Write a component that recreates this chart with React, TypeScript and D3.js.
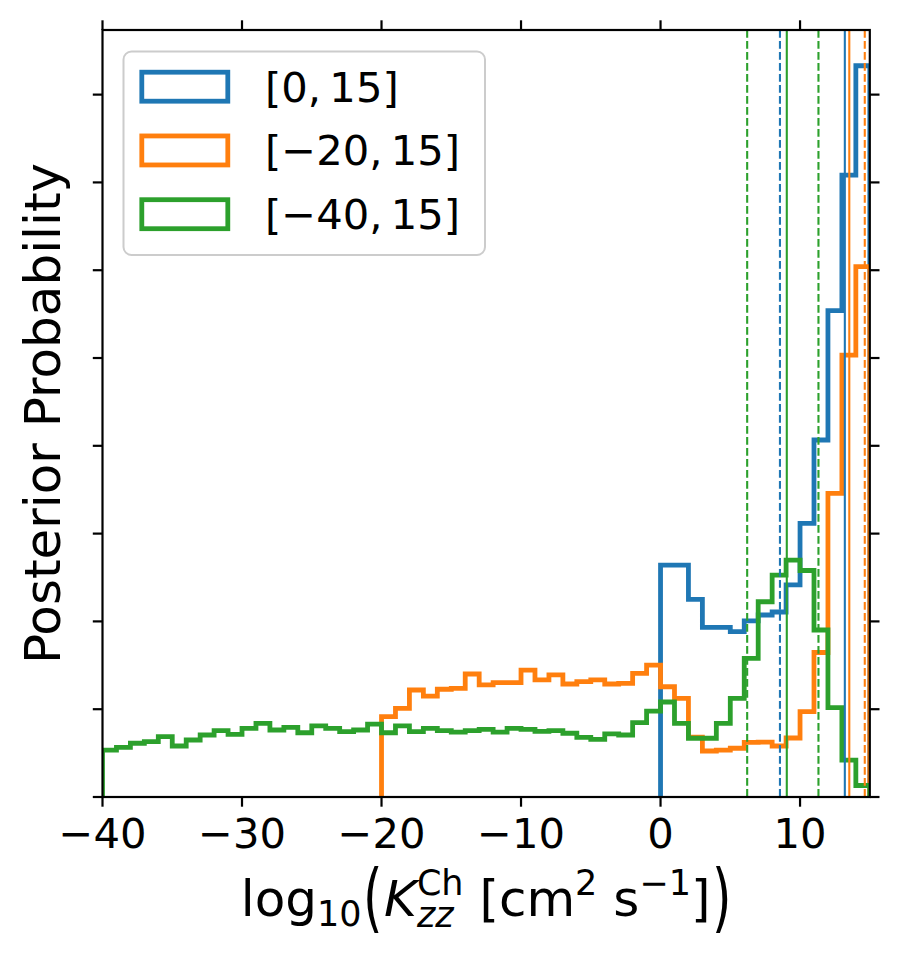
import React, { useLayoutEffect, useRef, useState } from 'react';
import * as d3 from 'd3';

// ---------------- data ----------------
const X_DOMAIN: [number, number] = [-40, 15];
const Y_MAX = 8.736;
const X_TICKS = [-40, -30, -20, -10, 0, 10];
const Y_TICKS = [0, 1, 2, 3, 4, 5, 6, 7, 8];
const BIN_WIDTH = 1;

const SERIES_NAMES = ['[0,\u200915]', '[\u221220,\u200915]', '[\u221240,\u200915]'];
const SERIES_COLORS = ['#1f77b4', '#ff7f0e', '#2ca02c'];
const SERIES_STARTS = [0, -20, -40];

const blueValues = [2.642, 2.642, 2.252, 1.933, 1.933, 1.883, 2.005, 2.073, 2.107, 2.415, 3.117, 4.066, 5.539, 7.084, 8.329];
const orangeValues = [
  0.915, 1.010, 1.219, 1.150, 1.227, 1.238, 1.401, 1.276, 1.302, 1.302,
  1.446, 1.333, 1.390, 1.287, 1.313, 1.333, 1.287, 1.295, 1.409, 1.503,
  1.256, 1.124, 0.683, 0.524, 0.535, 0.555, 0.623, 0.626, 0.581, 0.672,
  0.972, 1.646, 3.459, 5.034, 6.040,
];
const greenValues = [
  0.535, 0.566, 0.612, 0.630, 0.687, 0.581, 0.649, 0.706, 0.755, 0.714,
  0.782, 0.839, 0.763, 0.794, 0.732, 0.809, 0.782, 0.744, 0.763, 0.831,
  0.732, 0.809, 0.744, 0.782, 0.755, 0.740, 0.755, 0.771, 0.740, 0.782,
  0.771, 0.748, 0.755, 0.726, 0.680, 0.657, 0.718, 0.706, 0.846, 0.979,
  1.082, 0.839, 0.669, 0.669, 0.839, 1.124, 1.580, 2.224, 2.528, 2.699,
  2.580, 1.902, 1.019, 0.421, 0.131,
];

// medians (solid) and credible-interval bounds (dashed)
const blueMedian = 13.21;
const blueInterval = [8.56];
const orangeMedian = 13.53;
const orangeInterval = [14.64];
const greenMedian = 9.05;
const greenInterval = [6.21, 11.32];

// ---------------- layout ----------------
const W = 901;
const H = 956;
const M = { left: 102.5, right: 869.8, top: 30, bottom: 797 };
const FONT = "'DejaVu Sans', sans-serif";
const XLABEL_Y = 916;
const PAREN_SCALE = 1.5;

export default function App() {
  const x = d3.scaleLinear().domain(X_DOMAIN).range([M.left, M.right]);
  const y = d3.scaleLinear().domain([0, Y_MAX]).range([M.bottom, M.top]);

  const refA = useRef<SVGTextElement>(null);
  const refP = useRef<SVGTextElement>(null);
  const refB = useRef<SVGTextElement>(null);
  const [widths, setWidths] = useState({ a: 125, p: 19.5, b: 300 });

  useLayoutEffect(() => {
    const w = (el: SVGTextElement | null, d: number) => {
      if (!el) return d;
      try {
        return el.getBBox().width;
      } catch (e) {
        return d;
      }
    };
    setWidths({ a: w(refA.current, 125), p: w(refP.current, 19.5), b: w(refB.current, 300) });
  }, []);

  const seriesValues = [blueValues, orangeValues, greenValues];
  const stepLine = d3.line<[number, number]>().x((d) => x(d[0])).y((d) => y(d[1]));

  const histPath = (start: number, vals: number[]) => {
    const pts: [number, number][] = [[start, 0]];
    vals.forEach((v, i) => {
      const e0 = start + i * BIN_WIDTH;
      pts.push([e0, v]);
      pts.push([e0 + BIN_WIDTH, v]);
    });
    pts.push([start + vals.length * BIN_WIDTH, 0]);
    return stepLine(pts) || '';
  };

  const vlines: { v: number; color: string; dashed: boolean }[] = [
    { v: blueMedian, color: SERIES_COLORS[0], dashed: false },
    ...blueInterval.map((v) => ({ v, color: SERIES_COLORS[0], dashed: true })),
    { v: orangeMedian, color: SERIES_COLORS[1], dashed: false },
    ...orangeInterval.map((v) => ({ v, color: SERIES_COLORS[1], dashed: true })),
    { v: greenMedian, color: SERIES_COLORS[2], dashed: false },
    ...greenInterval.map((v) => ({ v, color: SERIES_COLORS[2], dashed: true })),
  ];

  const tickLen = 9.7;
  const axisW = 2.2;
  const histW = 4.8;
  const parenCy = XLABEL_Y - 0.28 * 50;

  const gap = 1.5;
  const cx = (M.left + M.right) / 2;
  const total = widths.a + widths.p * 2 + widths.b + gap * 3;
  const xA = cx - total / 2;
  const xP1 = xA + widths.a + gap;
  const xB = xP1 + widths.p + gap;
  const xP2 = xB + widths.b + gap;
  const parenT = `translate(0, ${parenCy}) scale(1, ${PAREN_SCALE}) translate(0, ${-parenCy})`;

  return (
    <svg
      width={W}
      height={H}
      viewBox={`0 0 ${W} ${H}`}
      style={{ position: 'absolute', left: 0, top: 0, background: '#fff' }}
      fontFamily={FONT}
    >
      <defs>
        <clipPath id="plotClip">
          <rect x={M.left} y={M.top} width={M.right - M.left} height={M.bottom - M.top} />
        </clipPath>
      </defs>
      <rect x={0} y={0} width={W} height={H} fill="#fff" />

      <g clipPath="url(#plotClip)">
        {seriesValues.map((vals, i) => (
          <path
            key={i}
            d={histPath(SERIES_STARTS[i], vals)}
            fill="none"
            stroke={SERIES_COLORS[i]}
            strokeWidth={histW}
            strokeLinejoin="miter"
          />
        ))}
        {vlines.map((l, i) => (
          <line
            key={i}
            x1={x(l.v)}
            x2={x(l.v)}
            y1={M.top}
            y2={M.bottom}
            stroke={l.color}
            strokeWidth={2.1}
            strokeDasharray={l.dashed ? '7.7,3.3' : undefined}
          />
        ))}
      </g>

      {/* spines */}
      <rect
        x={M.left}
        y={M.top}
        width={M.right - M.left}
        height={M.bottom - M.top}
        fill="none"
        stroke="#000"
        strokeWidth={axisW}
      />

      {/* x ticks bottom & top */}
      {X_TICKS.map((t) => (
        <g key={t}>
          <line x1={x(t)} x2={x(t)} y1={M.bottom} y2={M.bottom + tickLen} stroke="#000" strokeWidth={axisW} />
          <line x1={x(t)} x2={x(t)} y1={M.top} y2={M.top - tickLen} stroke="#000" strokeWidth={axisW} />
          <text x={x(t)} y={848} fontSize={41.7} textAnchor="middle" fill="#000">
            {t < 0 ? `\u2212${Math.abs(t)}` : `${t}`}
          </text>
        </g>
      ))}

      {/* y ticks left & right (no labels) */}
      {Y_TICKS.map((t) => (
        <g key={t}>
          <line x1={M.left} x2={M.left - tickLen} y1={y(t)} y2={y(t)} stroke="#000" strokeWidth={axisW} />
          <line x1={M.right} x2={M.right + tickLen} y1={y(t)} y2={y(t)} stroke="#000" strokeWidth={axisW} />
        </g>
      ))}

      {/* y label */}
      <text
        transform={`translate(60, ${(M.top + M.bottom) / 2}) rotate(-90)`}
        fontSize={50}
        textAnchor="middle"
        fill="#000"
      >
        Posterior Probability
      </text>

      {/* x label, split into pieces so the delimiters can be stretched */}
      <text ref={refA} x={xA} y={XLABEL_Y} fontSize={50} fill="#000">
        <tspan>log</tspan>
        <tspan fontSize={35} dy={10}>10</tspan>
      </text>
      <text ref={refP} x={xP1} y={XLABEL_Y} fontSize={50} fill="#000" transform={parenT}>
        (
      </text>
      <text ref={refB} x={xB} y={XLABEL_Y} fontSize={50} fill="#000">
        <tspan fontStyle="italic">K</tspan>
        <tspan fontSize={35} dy={-21}>Ch</tspan>
        <tspan fontSize={35} fontStyle="italic" dx={-46.6} dy={32}>zz</tspan>
        <tspan fontSize={50} dx={9.8} dy={-11}>{'\u00a0[cm'}</tspan>
        <tspan fontSize={35} dy={-21}>2</tspan>
        <tspan fontSize={50} dy={21}>{'\u00a0s'}</tspan>
        <tspan fontSize={35} dy={-21}>{'\u22121'}</tspan>
        <tspan fontSize={50} dy={21}>]</tspan>
      </text>
      <text x={xP2} y={XLABEL_Y} fontSize={50} fill="#000" transform={parenT}>
        )
      </text>

      {/* legend */}
      <rect x={123.5} y={51.5} width={361.5} height={203.5} rx={8} ry={8} fill="#fff" fillOpacity={0.8} stroke="#cccccc" strokeWidth={2} />
      {SERIES_NAMES.map((name, i) => {
        const cy = 86.7 + i * 63.75;
        return (
          <g key={name}>
            <rect x={141.8} y={cy - 14.5} width={86} height={29} fill="none" stroke={SERIES_COLORS[i]} strokeWidth={histW} />
            <text x={265} y={cy + 15} fontSize={41.7} fill="#000">
              {name}
            </text>
          </g>
        );
      })}
    </svg>
  );
}
